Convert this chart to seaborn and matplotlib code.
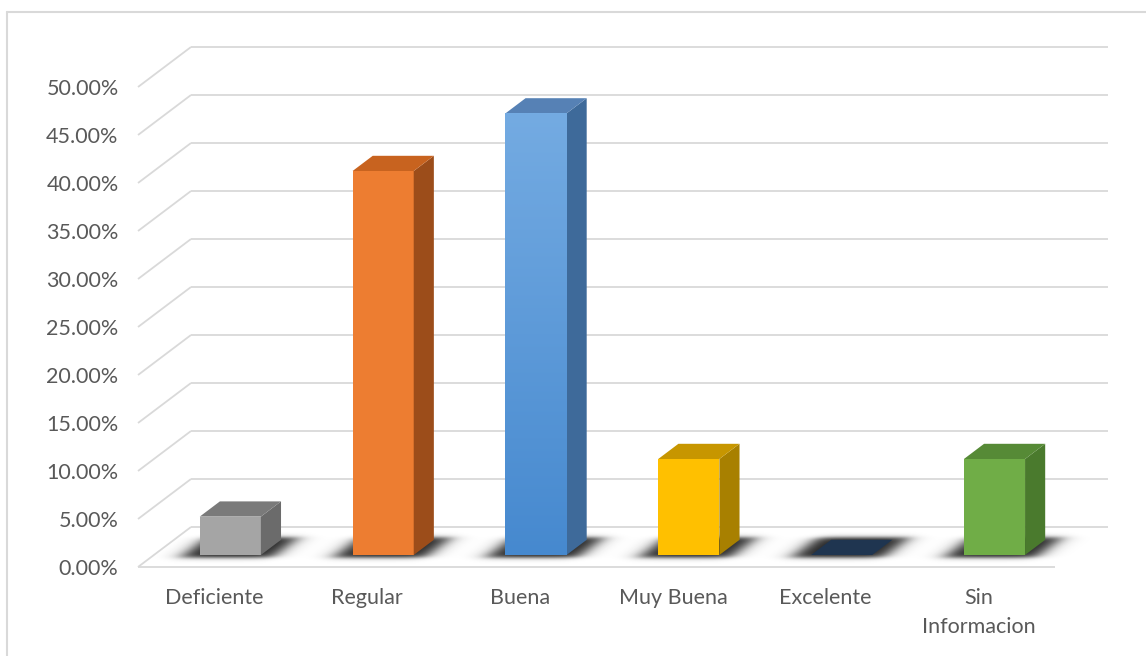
import textwrap
import numpy as np
import pandas as pd
import seaborn as sns
import matplotlib
matplotlib.use("Agg")
import matplotlib.pyplot as plt
from matplotlib.patches import Polygon
from matplotlib.lines import Line2D
from matplotlib.ticker import PercentFormatter
from matplotlib.transforms import Affine2D

# Survey result shares (percent)
categories = ["Deficiente", "Regular", "Buena", "Muy Buena", "Excelente", "Sin Informacion"]
values = [4.0, 40.0, 46.0, 10.0, 0.0, 10.0]
y_ticks = [0, 5, 10, 15, 20, 25, 30, 35, 40, 45, 50]

# Face colours for each column: front, top, side
front_colors = ["#A5A5A5", "#ED7D31", "#5B9BD5", "#FFC000", "#1F3550", "#70AD47"]
top_colors = ["#7A7A7A", "#C8631F", "#5681B5", "#C79600", "#1F3550", "#568A36"]
side_colors = ["#6B6B6B", "#9C4D1A", "#3E6A9A", "#A88000", "#1F3550", "#4A7A2D"]
gradient_top, gradient_bottom = "#74ABE2", "#4689CF"

W, H, DPI = 1146, 656, 100
sns.set_theme(style="white")
plt.rcParams["font.family"] = ["Lato", "DejaVu Sans"]
text_color = "#595959"
grid_color = "#D9D9D9"

fig = plt.figure(figsize=(W / DPI, H / DPI), dpi=DPI)
fig.patch.set_facecolor("white")
# Axes = front plane of the 3-D plot box
ax = fig.add_axes([138 / W, 89 / H, (1055 - 138) / W, (567 - 87) / H])
ax.set_facecolor("none")

df = pd.DataFrame({"cat": categories, "val": values})
sns.barplot(data=df, x="cat", y="val", hue="cat", palette=front_colors,
            legend=False, width=0.4, saturation=1, ax=ax, zorder=4)

ax.set_xlim(-0.5, len(categories) - 0.5)
ax.set_ylim(0, 50)

# Depth vector of the plot box, in data units
px_x = (len(categories)) / (1055 - 138)
px_y = 50 / (567 - 87)
DX, DY = 53 * px_x, 40 * px_y
front_t, depth_t = 0.30, 0.38  # column front position and depth, fraction of box depth

# Walls: side wall diagonals, back wall lines, floor edge
x_left, x_right = -0.5, len(categories) - 0.5
for v in y_ticks:
    ax.plot([x_left, x_left + DX], [v, v + DY], color=grid_color, lw=1.3,
            clip_on=False, zorder=1, solid_capstyle="butt")
    ax.plot([x_left + DX, x_right + DX], [v + DY, v + DY], color=grid_color,
            lw=1.3, clip_on=False, zorder=1, solid_capstyle="butt")
ax.plot([x_left, x_right], [0, 0], color=grid_color, lw=1.3, clip_on=False,
        zorder=1, solid_capstyle="butt")

bars = sorted(ax.patches, key=lambda p: p.get_x())
ox, oy = front_t * DX, front_t * DY
shift = Affine2D().translate(ox, oy) + ax.transData
bdx, bdy = depth_t * DX, depth_t * DY

# Soft floor shadows around each column base
gx0, gx1, gy0, gy1 = -0.8, x_right + DX + 0.3, -1.6, DY * 0.95
nx, ny = 1100, 160
gx = np.linspace(gx0, gx1, nx)
gy = np.linspace(gy1, gy0, ny)
XX, YY = np.meshgrid(gx, gy)
TT = YY / DY
UU = XX - TT * DX


def soft_box(z, lo, hi, soft):
    return 0.5 * (np.tanh((z - lo) / soft) - np.tanh((z - hi) / soft))


alpha = np.zeros_like(XX)
for p in bars:
    x0, w = p.get_x(), p.get_width()
    alpha += (soft_box(UU, x0 - 0.10, x0 + w + 0.10, 0.075)
              * soft_box(TT, front_t - 0.08, front_t + depth_t + 0.04, 0.06))
alpha = np.clip(alpha * 0.95, 0, 0.9)
rgba = np.zeros((ny, nx, 4))
rgba[..., :3] = 0.1
rgba[..., 3] = alpha
sh = ax.imshow(rgba, extent=[gx0, gx1, gy0, gy1], aspect="auto",
               interpolation="bilinear", zorder=2)
sh.set_clip_on(False)

# Columns: front faces from seaborn, plus side and top faces
for i, p in enumerate(bars):
    x0, w, h = p.get_x(), p.get_width(), p.get_height()
    p.set_transform(shift)
    p.set_clip_on(False)
    p.set_edgecolor("none")
    p.set_zorder(4)
    side = Polygon([(x0 + w, 0), (x0 + w + bdx, bdy), (x0 + w + bdx, h + bdy), (x0 + w, h)],
                   closed=True, facecolor=side_colors[i], edgecolor="none",
                   transform=shift, clip_on=False, zorder=4)
    top = Polygon([(x0, h), (x0 + w, h), (x0 + w + bdx, h + bdy), (x0 + bdx, h + bdy)],
                  closed=True, facecolor=top_colors[i], edgecolor="none",
                  transform=shift, clip_on=False, zorder=4)
    ax.add_patch(side)
    ax.add_patch(top)
    if categories[i] == "Buena":
        c0 = np.array(matplotlib.colors.to_rgb(gradient_top))
        c1 = np.array(matplotlib.colors.to_rgb(gradient_bottom))
        ramp = np.linspace(0, 1, 256)[:, None, None]
        grad = c0 * (1 - ramp) + c1 * ramp
        grad = np.repeat(grad, 2, axis=1)
        im = ax.imshow(grad, extent=[x0 + ox, x0 + w + ox, oy, h + oy],
                       aspect="auto", origin="upper", zorder=4.5,
                       interpolation="bilinear")
        im.set_clip_path(p)
        im.set_clip_on(True)

ax.set_xlim(-0.5, len(categories) - 0.5)
ax.set_ylim(0, 50)

ax.set_yticks(y_ticks)
ax.yaxis.set_major_formatter(PercentFormatter(xmax=100, decimals=2))
ax.set_xticks(range(len(categories)))
ax.set_xticklabels([textwrap.fill(c, 10, break_long_words=False) for c in categories])
ax.tick_params(axis="y", length=0, pad=14, labelsize=15.5, labelcolor=text_color)
ax.tick_params(axis="x", length=0, pad=15, labelsize=15.5, labelcolor=text_color)
for lab in ax.get_xticklabels():
    lab.set_linespacing(1.55)
ax.set_xlabel("")
ax.set_ylabel("")
for s in ax.spines.values():
    s.set_visible(False)
ax.grid(False)

# Chart area border
fig.add_artist(Line2D([7 / W, 1], [1 - 12 / H, 1 - 12 / H], color=grid_color, lw=1.5))
fig.add_artist(Line2D([7 / W, 7 / W], [0, 1 - 12 / H], color=grid_color, lw=1.5))

fig.savefig("out.png", dpi=DPI, facecolor="white")
